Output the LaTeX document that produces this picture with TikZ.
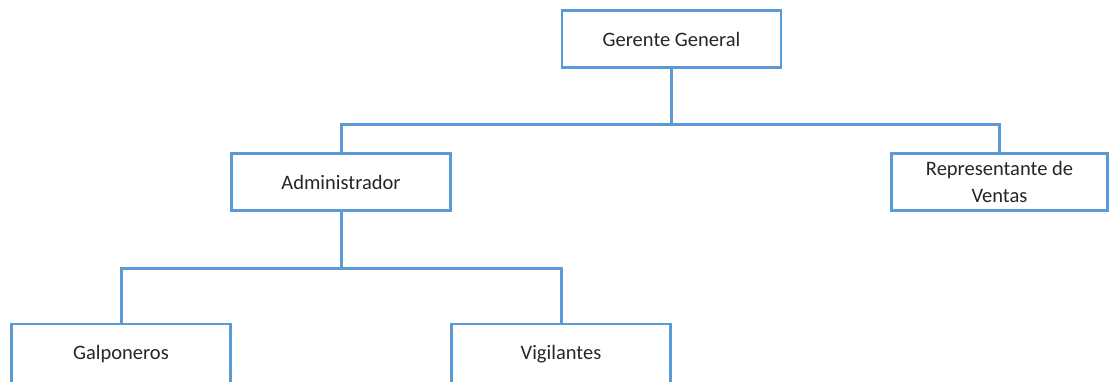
\documentclass[tikz,border=0pt]{standalone}
\usepackage{fontspec}
\setmainfont{Carlito}
\definecolor{boxblue}{HTML}{5B9BD5}
\begin{document}
\begin{tikzpicture}[x=1pt,y=-1pt,
  orgbox/.style={draw=boxblue,line width=2.8pt,fill=white,minimum width=219pt,minimum height=57pt,inner sep=0pt,align=center,font=\fontsize{20.5}{27}\selectfont,text=black!85},
  conn/.style={draw=boxblue,line width=3pt}]
\useasboundingbox (0,0) rectangle (1109,381);
\clip (0,0) rectangle (1109,381);
\node[orgbox] (gg) at (671.5,39) {Gerente General};
\node[orgbox] (adm) at (341,182) {Administrador};
\node[orgbox,minimum width=216pt] (rep) at (999.5,182) {Representante de\\Ventas};
\node[orgbox,minimum height=64pt] (gal) at (121,356) {};
\node[orgbox,minimum height=64pt] (vig) at (561,356) {};
\node at (121,354) {\fontsize{20.5}{27}\selectfont\color{black!85}Galponeros};
\node at (561,354) {\fontsize{20.5}{27}\selectfont\color{black!85}Vigilantes};
\coordinate (b1) at (671.5,124);
\coordinate (b2) at (341,268);
\draw[conn] (gg.south) -- (b1);
\draw[conn] (adm.north) |- (b1) -| (rep.north);
\draw[conn] (adm.south) -- (b2);
\draw[conn] (gal.north) |- (b2) -| (vig.north);
\end{tikzpicture}
\end{document}
